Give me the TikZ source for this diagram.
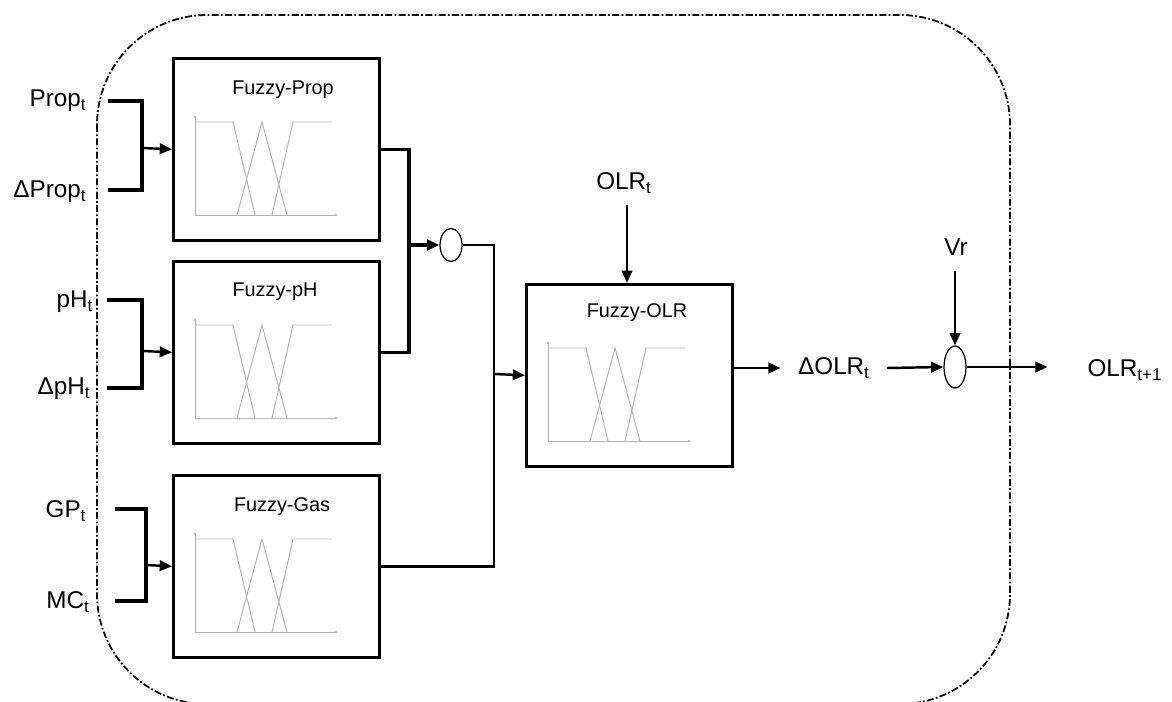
\documentclass[tikz,border=0pt]{standalone}
\usepackage{fontspec}
\setmainfont{Liberation Sans}
\usetikzlibrary{arrows.meta,shapes.geometric}

\tikzset{
	fuzzy/.style={draw, line width=1.5pt, minimum width=4.12cm, minimum height=3.64cm, inner sep=0pt, anchor=north west},
	lbl/.style={font=\fontsize{13.8}{16}\selectfont, inner sep=1pt},
	ttl/.style={font=\fontsize{11.3}{13}\selectfont, inner sep=1pt},
	mf/.style={draw=gray!60, line width=0.55pt},
	bus/.style={line width=2pt},
	wire/.style={line width=1.4pt},
	arr/.style={line width=1.4pt, -{Triangle[length=7pt,width=6pt]}},
	knot/.style={draw, ellipse, line width=0.7pt, inner sep=0pt, minimum width=0.44cm},
	frame/.style={line width=1pt, dash pattern=on 4pt off 1.3pt on 1pt off 1.3pt, rounded corners=2.2cm}
}

\begin{document}
\begin{tikzpicture}[x=0.02cm, y=-0.02cm]
	\useasboundingbox (0,0) rectangle (1172,702);
	%\draw[help lines] (0,0) grid[step=50] (1172,702);
	\draw[frame] (97,15) rectangle (1010,704);

	% fuzzy blocks
	\node[fuzzy] (prop) at (172,57) {};
	\node[fuzzy] (ph) at (172,260) {};
	\node[fuzzy] (gas) at (172,474) {};
	\node[fuzzy] (olr) at (525,283) {};
	\node[ttl] (propT) at (283,90) {Fuzzy-Prop};
	\node[ttl] (phT) at (275,292) {Fuzzy-pH};
	\node[ttl] (gasT) at (282,507) {Fuzzy-Gas};
	\node[ttl] (olrT) at (637,313) {Fuzzy-OLR};
	\foreach \b in {prop,ph,gas,olr}{
		\begin{scope}[shift={(\b.north west)}]
			\draw[mf, {Latex[length=1.5pt,width=1.5pt]}-{Latex[length=1.5pt,width=1.5pt]}] (23,58) -- (23,158) -- (166,158);
			\draw[mf] (23,65) -- (61,65) -- (83,158);
			\draw[mf] (65,158) -- (90,65) -- (115,158);
			\draw[mf] (100,158) -- (121,65) -- (160,65);
		\end{scope}
	}

	% inputs
	\node[lbl] (propIn) at (58,101) {Prop\textsubscript{t}};
	\node[lbl] (dpropIn) at (50,192) {ΔProp\textsubscript{t}};
	\node[lbl] (phIn) at (75,302) {pH\textsubscript{t}};
	\node[lbl] (dphIn) at (64,389) {ΔpH\textsubscript{t}};
	\node[lbl] (gpIn) at (66,511) {GP\textsubscript{t}};
	\node[lbl] (mcIn) at (68,602) {MC\textsubscript{t}};
	\coordinate (a1) at (108,101);
	\coordinate (a2) at (108,190);
	\coordinate (a3) at (107,300);
	\coordinate (a4) at (107,388);
	\coordinate (a5) at (115,509);
	\coordinate (a6) at (115,601);
	\coordinate (jp) at (142,148);
	\coordinate (jh) at (142,351);
	\coordinate (jg) at (146,565);
	\draw[bus] (a1) -| (jp) |- (a2);
	\draw[bus] (a3) -| (jh) |- (a4);
	\draw[bus] (a5) -| (jg) |- (a6);
	\draw[arr] (jp) -- (prop.west);
	\draw[arr] (jh) -- (ph.west);
	\draw[arr] (jg) -- (gas.west);

	% joining the blocks
	\node[knot, minimum height=0.66cm] (e1) at (451,245) {};
	\coordinate (m1) at (409,245);
	\coordinate (m2) at (494,374);
	\draw[bus] (prop.east) -| (m1) |- (ph.east);
	\draw[arr, line width=1.8pt] (m1) -- (e1.west);
	\draw[wire] (e1.east) -| (m2) |- (gas.east);
	\draw[arr] (m2) -- (olr.west);

	\node[lbl] (olrIn) at (624,183) {OLR\textsubscript{t}};
	\coordinate (o1) at (627,205);
	\draw[arr] (o1) -- (o1 |- olr.north);

	% output
	\node[lbl] (dolr) at (834,368) {ΔOLR\textsubscript{t}};
	\node[knot, minimum height=0.84cm] (e2) at (955,367) {};
	\node[lbl] (vr) at (956,247) {Vr};
	\node[lbl] (olrOut) at (1125,370) {OLR\textsubscript{t+1}};
	\coordinate (v1) at (955,271);
	\draw[arr] (olr.east |- dolr.west) -- ++(47,0);
	\draw[arr] ([xshift=0.3cm]dolr.east) -- (e2.west);
	\draw[arr] (v1) -- (e2.north);
	\draw[arr] (e2.east) -- ++(81,0);
\end{tikzpicture}
\end{document}
